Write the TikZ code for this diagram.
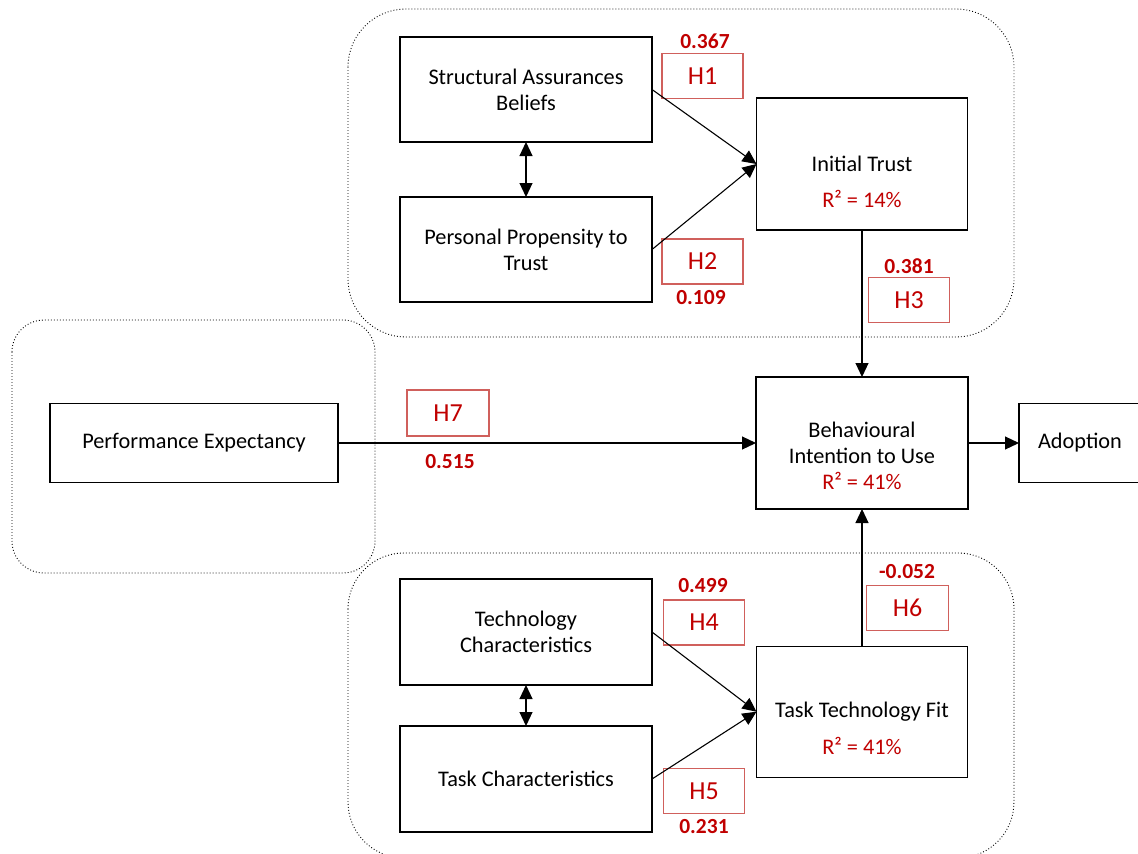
\documentclass[tikz,border=0pt]{standalone}
\usepackage{fontspec}
\setmainfont{Carlito}
\usetikzlibrary{arrows.meta}
\definecolor{valred}{RGB}{192,0,0}
\definecolor{hyred}{RGB}{208,96,92}
\begin{document}
\begin{tikzpicture}[x=1pt,y=-1pt,
  construct/.style={draw=black, line width=1.2pt, inner sep=0pt, outer sep=0pt,
    align=center, font=\fontsize{22.3}{26}\selectfont},
  rtext/.style={inner sep=0pt, text=valred, font=\fontsize{22.3}{26}\selectfont},
  btext/.style={inner sep=0pt, align=center, font=\fontsize{22.3}{26}\selectfont},
  hyp/.style={draw=hyred, line width=1.1pt, minimum width=81pt, minimum height=45pt,
    inner sep=0pt, text=valred, font=\fontsize{26}{30}\selectfont},
  val/.style={inner sep=0pt, text=valred, font=\fontsize{21.5}{26}\selectfont\bfseries},
  group/.style={draw=black, line width=0.9pt, dash pattern=on 0.9pt off 2.1pt},
  link/.style={line width=1.1pt, -{Triangle[length=14pt,width=13pt]}},
  dlink/.style={line width=1.1pt, {Triangle[length=14pt,width=13pt]}-{Triangle[length=14pt,width=13pt]}}
]
\clip (0,0) rectangle (1138,854);

% dotted groupings of the constructs
\draw[group, rounded corners=58pt] (348,9) rectangle (1014,337);
\draw[group, rounded corners=32pt] (12,320) rectangle (375,573);
\draw[group, rounded corners=56pt] (348,553) rectangle (1014,858);

% constructs
\node[construct, minimum width=252pt, minimum height=105pt] (sab) at (526,89.5)
  {Structural Assurances\\Beliefs};
\node[construct, minimum width=252pt, minimum height=105pt] (ppt) at (526,249.5)
  {Personal Propensity to\\Trust};
\node[construct, minimum width=211pt, minimum height=132pt] (it) at (862,164)
  {Initial Trust};
\node[rtext] (itr) at (862,199) {R² = 14\%};

\node[construct, minimum width=288pt, minimum height=79pt] (pe) at (194,443)
  {Performance Expectancy};
\node[construct, minimum width=212pt, minimum height=132pt] (bi) at (862,443) {};
\node[btext] (bitext) at (862,456) {Behavioural\\Intention to Use\\\textcolor{valred}{R² = 41\%}};
\node[construct, minimum width=126pt, minimum height=79pt] (ad) at (1082,443) {};
\node[btext] (adtext) at (1080,443) {Adoption};

\node[construct, minimum width=252pt, minimum height=106pt] (tc) at (526,632)
  {Technology\\Characteristics};
\node[construct, minimum width=252pt, minimum height=106pt] (tk) at (526,779)
  {Task Characteristics};
\node[construct, minimum width=211pt, minimum height=131pt] (ttf) at (862,711.7)
  {Task Technology Fit};
\node[rtext] (ttfr) at (862,746) {R² = 41\%};

% hypotheses and path coefficients
\node[hyp] (h1) at (702.5,76) {H1};
\node[val] (v1) at (705,41) {0.367};
\node[hyp] (h2) at (702.5,261.5) {H2};
\node[val] (v2) at (701,298) {0.109};
\node[hyp] (h3) at (909,300) {H3};
\node[val] (v3) at (909,266) {0.381};
\node[hyp, minimum width=82pt, minimum height=46pt] (h7) at (448,413) {H7};
\node[val] (v7) at (450,462) {0.515};
\node[hyp] (h4) at (704,622.5) {H4};
\node[val] (v4) at (703,586) {0.499};
\node[hyp] (h5) at (704,791) {H5};
\node[val] (v5) at (704,827) {0.231};
\node[hyp, minimum width=82pt] (h6) at (907.5,608) {H6};
\node[val] (v6) at (907,572) {-0.052};

% structural paths
\draw[link] (sab.east) -- (it.west);
\draw[link] (ppt.east) -- (it.west);
\draw[dlink] (sab.south) -- (ppt.north);
\draw[link] (it.south) -- (bi.north);
\draw[link] (pe.east) -- (bi.west);
\draw[link] (bi.east) -- (ad.west);
\draw[link] (tc.east) -- (ttf.west);
\draw[link] (tk.east) -- (ttf.west);
\draw[dlink] (tc.south) -- (tk.north);
\draw[link] (ttf.north) -- (bi.south);
\end{tikzpicture}
\end{document}
